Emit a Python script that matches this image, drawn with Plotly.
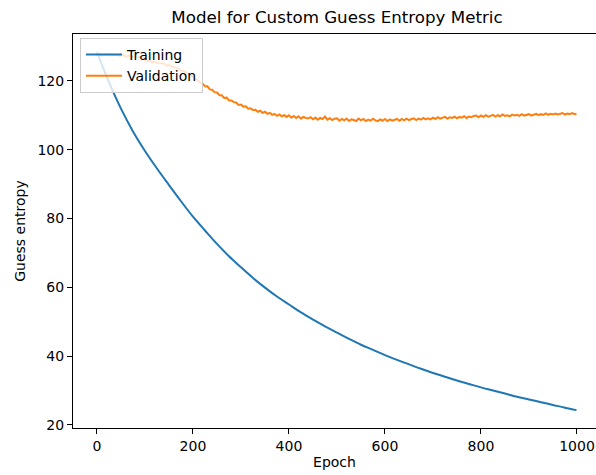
import plotly.graph_objects as go

# Training history of the guess-entropy model
train_epochs = list(range(0, 1000, 25)) + [999]
train_guess_entropy = [
    128.3, 119.6, 111.9, 105.3, 99.6, 94.5, 89.7, 85.0, 80.5, 76.5,
    72.6, 69.0, 65.8, 62.7, 59.9, 57.3, 55.0, 52.7, 50.6, 48.6,
    46.8, 45.0, 43.3, 41.8, 40.3, 38.9, 37.6, 36.3, 35.1, 34.0,
    32.9, 31.9, 30.9, 30.0, 29.1, 28.2, 27.4, 26.6, 25.8, 25.0,
    24.3,
]

val_epochs = list(range(0, 1000, 5)) + [999]
val_guess_entropy = [
    127.6, 127.9, 127.3, 127.7, 127.5, 127.8, 127.3, 127.5, 127.6, 127.2,
    127.4, 127.5, 127.0, 127.3, 127.4, 126.9, 127.1, 126.8, 127.0, 126.6,
    126.0, 125.7, 125.9, 125.3, 125.6, 125.2, 125.1, 124.9, 125.0, 124.4,
    124.6, 124.2, 124.0, 123.7, 123.6, 123.0, 122.9, 122.6, 122.1, 121.7,
    121.2, 120.4, 120.2, 119.4, 119.2, 118.4, 118.4, 117.5, 117.4, 116.7,
    116.6, 115.8, 115.8, 115.0, 115.1, 114.3, 114.3, 113.8, 113.7, 113.0,
    113.1, 112.5, 112.6, 111.9, 112.0, 111.5, 111.6, 111.0, 111.3, 110.7,
    111.0, 110.4, 110.7, 110.1, 110.4, 109.8, 110.2, 109.7, 110.0, 109.5,
    110.0, 109.3, 109.8, 109.2, 109.7, 109.0, 109.5, 109.2, 109.1, 109.4,
    108.8, 109.3, 108.7, 109.2, 108.9, 109.6, 108.7, 109.1, 108.6, 109.0,
    109.1, 108.4, 108.9, 108.5, 109.0, 108.3, 108.8, 108.6, 108.3, 109.0,
    108.5, 108.9, 108.3, 108.7, 108.4, 109.0, 108.5, 108.3, 108.8, 108.4,
    108.9, 108.3, 108.8, 108.4, 108.6, 108.9, 108.4, 108.9, 108.5, 109.0,
    108.6, 108.8, 109.1, 108.6, 109.0, 108.7, 109.2, 108.8, 109.1, 108.8,
    109.3, 108.9, 109.4, 109.0, 109.3, 109.5, 109.0, 109.4, 109.2, 109.6,
    109.1, 109.5, 109.3, 109.7, 109.2, 109.6, 109.4, 109.8, 109.9, 109.4,
    109.9, 109.5, 110.0, 109.6, 109.8, 110.1, 109.6, 110.0, 109.7, 110.2,
    109.8, 110.0, 109.7, 110.2, 109.9, 110.1, 109.8, 110.3, 109.9, 110.1,
    110.3, 109.9, 110.2, 110.4, 110.0, 110.3, 110.1, 110.5, 110.1, 110.4,
    110.2, 110.5, 110.2, 110.4, 110.6, 110.2, 110.5, 110.3, 110.6, 110.3,
    110.4,
]

x_ticks = [0, 200, 400, 600, 800, 1000]
y_ticks = [20, 40, 60, 80, 100, 120]

FONT = "DejaVu Sans, sans-serif"

fig = go.Figure()
fig.add_trace(go.Scatter(
    x=train_epochs, y=train_guess_entropy, name="Training",
    mode="lines", line=dict(color="#1f77b4", width=2, shape="spline"),
))
fig.add_trace(go.Scatter(
    x=val_epochs, y=val_guess_entropy, name="Validation",
    mode="lines", line=dict(color="#ff7f0e", width=2),
))

axis_common = dict(
    showgrid=False, zeroline=False,
    showline=True, linecolor="black", linewidth=1,
    ticks="outside", ticklen=5, tickwidth=1, tickcolor="black",
    tickfont=dict(family=FONT, size=14, color="black"),
)

fig.update_layout(
    width=596, height=475,
    margin=dict(l=73, r=0, t=34, b=47),
    paper_bgcolor="white", plot_bgcolor="white",
    title=dict(
        text="Model for Custom Guess Entropy Metric",
        font=dict(family=FONT, size=16.7, color="black"),
        x=(73 + 601) / 2 / 596, xanchor="center",
        y=1 - 17 / 475, yanchor="middle",
    ),
    xaxis=dict(
        **axis_common, mirror=True,
        range=[-49.95, -49.95 + 523 / 0.48],
        tickvals=x_ticks,
        title=dict(text="Epoch", font=dict(family=FONT, size=14, color="black"), standoff=4),
    ),
    yaxis=dict(
        **axis_common,
        range=[19.1, 133.6],
        tickvals=y_ticks,
        title=dict(text="Guess entropy", font=dict(family=FONT, size=14, color="black"), standoff=8),
    ),
    legend=dict(
        x=0.0134, y=0.99, xanchor="left", yanchor="top",
        bgcolor="rgba(255,255,255,0.8)", bordercolor="#cccccc", borderwidth=1,
        font=dict(family=FONT, size=14, color="black"),
        tracegroupgap=0, itemwidth=36,
    ),
    showlegend=True,
)

fig.write_html("out.html")
